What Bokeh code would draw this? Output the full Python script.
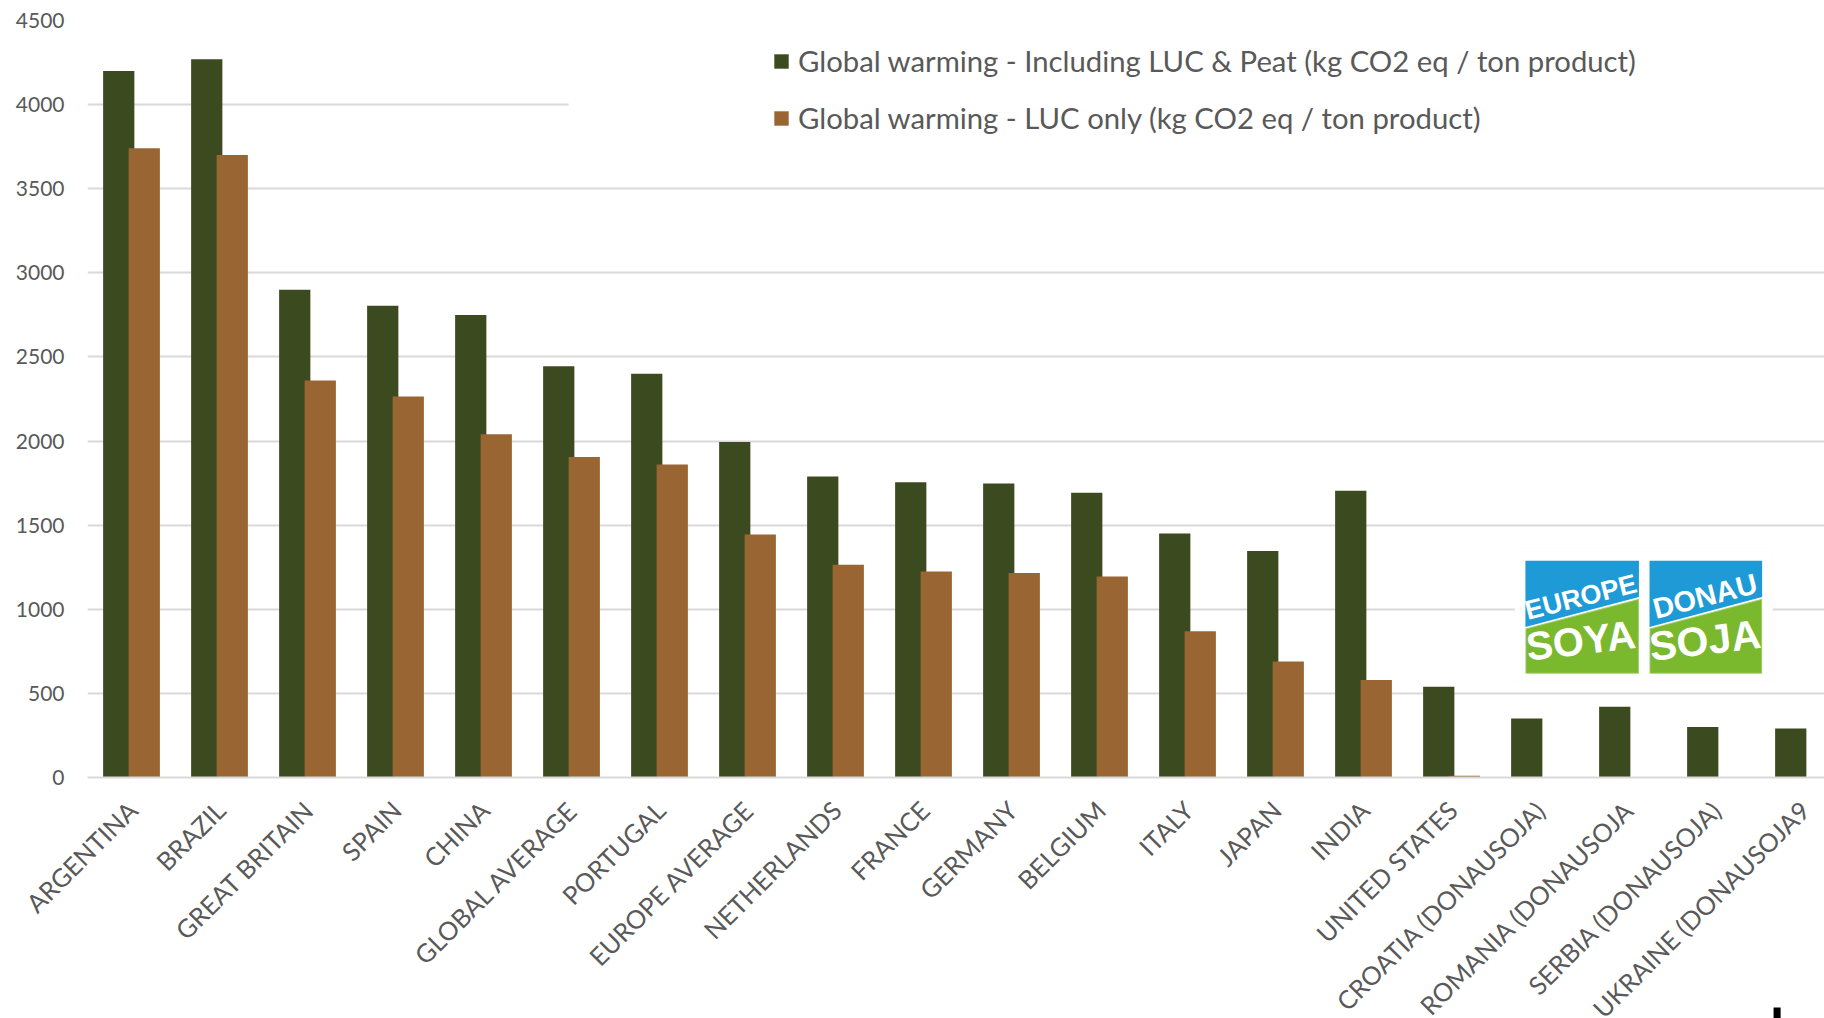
import numpy as np
from bokeh.plotting import figure
from bokeh.core.properties import value
from bokeh.models import (ColumnDataSource, Range1d, FixedTicker, SingleIntervalTicker,
                          Legend, LegendItem, BoxAnnotation, PolyAnnotation, Label)
from bokeh.transform import dodge
from bokeh.embed import file_html
from bokeh.resources import INLINE

categories = ["ARGENTINA", "BRAZIL", "GREAT BRITAIN", "SPAIN", "CHINA", "GLOBAL AVERAGE",
              "PORTUGAL", "EUROPE AVERAGE", "NETHERLANDS", "FRANCE", "GERMANY", "BELGIUM",
              "ITALY", "JAPAN", "INDIA", "UNITED STATES", "CROATIA (DONAUSOJA)",
              "ROMANIA (DONAUSOJA", "SERBIA (DONAUSOJA)", "UKRAINE (DONAUSOJA9"]
incl_luc_peat = [4200, 4270, 2900, 2805, 2750, 2445, 2400, 1995, 1790, 1755, 1748, 1692,
                 1450, 1347, 1705, 540, 350, 420, 300, 292]
luc_only = [3740, 3700, 2360, 2265, 2040, 1905, 1860, 1445, 1265, 1225, 1215, 1195,
            870, 690, 580, 10, 0, 0, 0, 0]
series_names = ["Global warming - Including LUC & Peat (kg CO2 eq / ton product)",
                "Global warming - LUC only (kg CO2 eq / ton product)"]

GREEN = "#3B4A1F"
BROWN = "#996633"
TXT = "#595959"
GRID = "#D9D9D9"
FONT = "Lato"

W, H = 1824, 1018
LEFT = 87          # px left of the plotting frame
BAND = 88          # px per category
MAIN_H = 790       # height of the main chart canvas
STRIP_H = H - MAIN_H

pos = np.arange(len(categories)) + 0.5
src = ColumnDataSource(dict(x=pos, a=incl_luc_peat, b=luc_only, cat=categories))

x_end = (W - LEFT) / BAND

# ---------------- main chart ----------------
p = figure(width=W, height=MAIN_H, output_backend="svg", toolbar_location=None,
           x_range=Range1d(0, x_end), y_range=Range1d(0, 4500),
           min_border_left=LEFT, min_border_right=0, min_border_top=20,
           min_border_bottom=MAIN_H - 777)
p.outline_line_color = None
p.background_fill_color = "white"
p.border_fill_color = "white"

r1 = p.vbar(x=dodge("x", -0.145), top="a", width=0.355, source=src,
            fill_color=GREEN, line_color=None)
r2 = p.vbar(x=dodge("x", 0.145), top="b", width=0.355, source=src,
            fill_color=BROWN, line_color=None)

p.xgrid.grid_line_color = None
p.ygrid.grid_line_color = GRID
p.ygrid.grid_line_width = 2

p.yaxis.ticker = SingleIntervalTicker(interval=500)
p.yaxis.axis_line_color = None
p.yaxis.major_tick_line_color = None
p.yaxis.minor_tick_line_color = None
p.yaxis.major_label_text_font = FONT
p.yaxis.major_label_text_font_size = "21px"
p.yaxis.major_label_text_color = TXT
p.yaxis.major_label_standoff = 17

# x axis line only; the rotated category labels sit in the strip below
p.xaxis.ticker = FixedTicker(ticks=[])
p.xaxis.axis_line_color = GRID
p.xaxis.axis_line_width = 2
p.xaxis.major_tick_line_color = None
p.xaxis.minor_tick_line_color = None
p.xaxis.major_tick_out = 0
p.xaxis.major_label_standoff = 0

# white panel behind the legend (hides the 4000 gridline there)
p.add_layout(BoxAnnotation(left=5.466, bottom=3700, top=4300, fill_color="white",
                           fill_alpha=1, line_color=None))

legend = Legend(items=[LegendItem(label=series_names[0], renderers=[r1]),
                       LegendItem(label=series_names[1], renderers=[r2])],
                location=(685, 642), orientation="vertical")
legend.background_fill_alpha = 0
legend.border_line_color = None
legend.padding = 0
legend.margin = 0
legend.glyph_width = 18
legend.glyph_height = 18
legend.label_standoff = 8
legend.label_height = 35
legend.spacing = 22
legend.label_text_font = FONT
legend.label_text_font_size = "29.3px"
legend.label_text_color = TXT
p.add_layout(legend)

# logo (decoration)
BLUE = "#1E9AD6"
LGREEN = "#7AB82E"
p.add_layout(BoxAnnotation(left=16.22, right=19.15, bottom=575, top=1360,
                           fill_color="white", fill_alpha=1, line_color="#F4F4F4"))
for x0, x1 in [(16.34, 17.63), (17.75, 19.03)]:
    p.add_layout(PolyAnnotation(xs=[x0, x1, x1, x0], ys=[1289, 1289, 1073, 895],
                                fill_color=BLUE, fill_alpha=1, line_color=None))
    p.add_layout(PolyAnnotation(xs=[x0, x1, x1, x0], ys=[885, 1063, 617, 617],
                                fill_color=LGREEN, fill_alpha=1, line_color="white",
                                line_width=2))
for txt, x, y, size, ang in [("EUROPE", 16.97, 1072, "27px", 0.25),
                             ("SOYA", 16.97, 815, "40px", 0.12),
                             ("DONAU", 18.38, 1078, "29px", 0.25),
                             ("SOJA", 18.38, 815, "41px", 0.12)]:
    p.add_layout(Label(x=x, y=y, text=txt, text_font="Liberation Sans",
                       text_font_style="bold", text_font_size=size,
                       text_color="white", text_align="center", text_baseline="middle",
                       angle=ang))

# ---------------- category label strip (same x scale, full width) ----------------
q = figure(width=W, height=STRIP_H, output_backend="svg", toolbar_location=None,
           x_range=Range1d(-LEFT / BAND, x_end), y_range=Range1d(-STRIP_H, 0),
           x_axis_location=None, y_axis_location=None,
           min_border_left=0, min_border_right=0, min_border_top=0, min_border_bottom=0)
q.outline_line_color = None
q.grid.visible = False
q.background_fill_color = "white"
q.border_fill_color = "white"
q.text(x="x", y=-15, text="cat", source=src, angle=np.pi / 4,
       text_align="right", text_baseline="middle", x_offset=1,
       text_font=value(FONT), text_font_size=value("25.4px"), text_color=TXT)
q.add_layout(BoxAnnotation(left=19.16, right=19.24, bottom=-STRIP_H, top=-STRIP_H + 11,
                           fill_color="black", fill_alpha=1, line_color=None))

# two separate roots stacked on the page (no frame alignment between them)
open("out.html", "w").write(file_html([p, q], INLINE))
